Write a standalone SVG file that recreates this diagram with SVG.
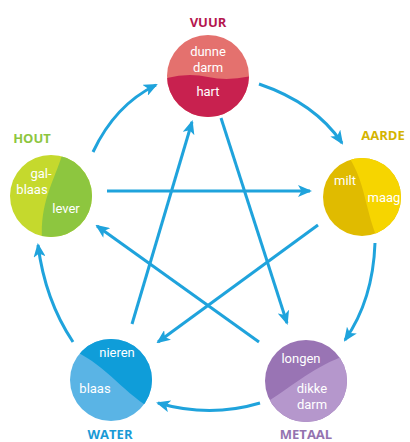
<svg xmlns="http://www.w3.org/2000/svg" width="410" height="442" viewBox="0 0 410 442">
<style>
.lbl{font-family:"Open Sans","Liberation Sans",sans-serif;font-weight:bold;font-size:13px;text-anchor:middle}
.org{font-family:Roboto,"Liberation Sans",sans-serif;font-size:13px;fill:#fff;text-anchor:middle}
.arr{fill:none;stroke:#1fa3dc;stroke-width:3;marker-end:url(#ah)}
</style>
<defs>
<marker id="ah" viewBox="0 0 14 12" refX="12" refY="6" markerWidth="14" markerHeight="12" markerUnits="userSpaceOnUse" orient="auto">
<path d="M0,0 L14,6 L0,12 L3.5,6 z" fill="#1fa3dc"/>
</marker>
<clipPath id="cv"><circle cx="208" cy="76" r="41"/></clipPath>
<clipPath id="ch"><circle cx="51" cy="196" r="41"/></clipPath>
<clipPath id="ca"><circle cx="362" cy="197" r="39"/></clipPath>
<clipPath id="cw"><circle cx="111" cy="380" r="41"/></clipPath>
<clipPath id="cm"><circle cx="306" cy="381" r="41"/></clipPath>
</defs>
<rect width="410" height="442" fill="#fff"/>
<g id="connectors">
<path class="arr" d="M93 152 Q115 105 156 85"/>
<path class="arr" d="M259 84 Q315 103 342 143"/>
<path class="arr" d="M375 243 Q373 300 345 340"/>
<path class="arr" d="M260 403 Q210 418 158 403"/>
<path class="arr" d="M73 342 Q45 300 38 245"/>
<path class="arr" d="M107 191 L310 191"/>
<path class="arr" d="M318 225 L158 342"/>
<path class="arr" d="M132 324 L192 122"/>
<path class="arr" d="M221 118 L287 323"/>
<path class="arr" d="M259 342 L97 226"/>
</g>
<g id="vuur">
<g clip-path="url(#cv)">
<rect x="160" y="30" width="100" height="100" fill="#e4716e"/>
<path d="M160 80 Q185 72 208 77 T260 74 L260 130 L160 130 z" fill="#c8214f"/>
</g>
<text class="lbl" x="208" y="27" fill="#b5174f">VUUR</text>
<text class="org" x="208" y="56">dunne</text>
<text class="org" x="208" y="71.5">darm</text>
<text class="org" x="208" y="96">hart</text>
</g>
<g id="hout">
<g clip-path="url(#ch)">
<rect x="5" y="150" width="95" height="95" fill="#c5d92d"/>
<path d="M63 152 C55 180 40 200 42 240 L100 240 L100 150 z" fill="#8dc63f"/>
</g>
<text class="lbl" x="32" y="143" fill="#8dc63f">HOUT</text>
<text class="org" x="41" y="178">gal-</text>
<text class="org" x="32" y="193.5">blaas</text>
<text class="org" x="66" y="213">lever</text>
</g>
<g id="aarde">
<g clip-path="url(#ca)">
<rect x="318" y="152" width="90" height="90" fill="#e0bb00"/>
<path d="M348 156 C365 180 365 210 378 240 L410 240 L410 152 z" fill="#f6d500"/>
</g>
<text class="lbl" x="383" y="140" fill="#d4b400">AARDE</text>
<text class="org" x="345" y="185">milt</text>
<text class="org" x="384" y="202">maag</text>
</g>
<g id="water">
<g clip-path="url(#cw)">
<rect x="65" y="335" width="95" height="95" fill="#5ab4e5"/>
<path d="M65 348 C100 358 120 390 150 408 L160 408 L160 335 L65 335 z" fill="#0f9dd9"/>
</g>
<text class="org" x="117" y="357">nieren</text>
<text class="org" x="95" y="393">blaas</text>
<text class="lbl" x="110" y="439" fill="#1a9ad6">WATER</text>
</g>
<g id="metaal">
<g clip-path="url(#cm)">
<rect x="260" y="335" width="95" height="95" fill="#9974b4"/>
<path d="M262 405 C295 385 315 365 350 354 L355 430 L260 430 z" fill="#b597cc"/>
</g>
<text class="org" x="301" y="363">longen</text>
<text class="org" x="312" y="393">dikke</text>
<text class="org" x="312" y="408.5">darm</text>
<text class="lbl" x="306" y="439" fill="#9473b0">METAAL</text>
</g>
</svg>
